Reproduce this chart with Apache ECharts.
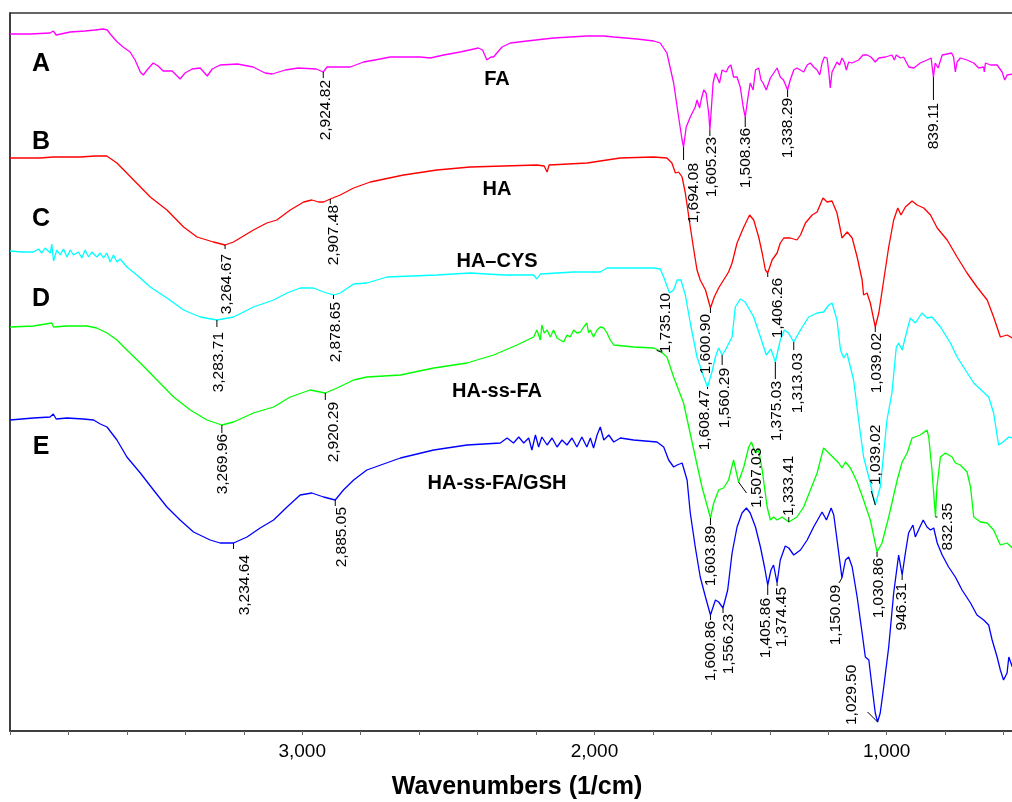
<!DOCTYPE html>
<html>
<head>
<meta charset="utf-8">
<script src="https://cdn.jsdelivr.net/npm/echarts@6/dist/echarts.min.js"></script>
<style>html,body{margin:0;padding:0;background:#fff}#c{width:1012px;height:802px}</style>
</head>
<body>
<div id="c"></div>
<script>
// ---------- DATA (wavenumber cm-1, transmittance in arbitrary offset units) ----------
const traceNames = ['FA', 'HA', 'HA–CYS', 'HA-ss-FA', 'HA-ss-FA/GSH'];
const traceLetters = ['A', 'B', 'C', 'D', 'E'];
const xTickLabels = [1000, 2000, 3000];

const faData = [[4000,697],[3931,697],[3863,698],[3852,700],[3842,696],[3794,699],[3743,700],[3709,701],[3681,702],[3667,701],[3657,697],[3633,689],[3613,684],[3589,679],[3572,671],[3554,659],[3544,656],[3531,661],[3510,668],[3493,665],[3476,660],[3445,660],[3418,652],[3401,658],[3377,662],[3349,663],[3325,655],[3308,662],[3281,666],[3222,667],[3168,664],[3127,658],[3103,657],[3058,661],[3014,663],[2952,662],[2928,659],[2915,664],[2870,664],[2836,664],[2790,669],[2733,672],[2699,674],[2642,674],[2596,674],[2562,673],[2516,676],[2459,679],[2397,683],[2383,681],[2368,671],[2362,669],[2354,674],[2345,674],[2334,678],[2316,684],[2288,688],[2231,690],[2140,693],[2025,695],[1969,695],[1934,694],[1854,692],[1797,690],[1775,688],[1752,678],[1729,648],[1712,614],[1700,591],[1695,584],[1686,604],[1672,614],[1655,624],[1649,631],[1640,623],[1635,631],[1626,641],[1618,638],[1609,618],[1605,601],[1601,618],[1594,648],[1586,658],[1572,648],[1563,661],[1549,659],[1541,664],[1533,666],[1524,654],[1512,654],[1501,644],[1491,624],[1484,614],[1476,631],[1467,648],[1457,641],[1449,661],[1438,663],[1430,651],[1423,648],[1412,641],[1398,653],[1375,663],[1364,654],[1353,651],[1339,641],[1330,651],[1318,661],[1307,663],[1284,659],[1272,666],[1261,668],[1250,664],[1238,661],[1229,656],[1221,668],[1213,674],[1204,673],[1198,659],[1193,643],[1187,659],[1170,669],[1161,666],[1153,673],[1145,669],[1138,661],[1130,669],[1119,668],[1096,671],[1081,676],[1067,676],[1054,674],[1039,669],[1027,673],[1004,674],[982,676],[974,671],[967,676],[953,673],[942,674],[924,664],[907,663],[885,668],[862,671],[848,673],[840,654],[834,668],[824,663],[810,676],[793,677],[778,678],[771,674],[765,659],[759,669],[748,673],[725,671],[702,668],[685,663],[668,664],[666,659],[662,668],[645,666],[622,666],[605,659],[596,651],[588,656],[570,657]];

const haData = [[4000,573],[3897,573],[3852,574],[3849,576],[3760,574],[3709,575],[3669,575],[3634,568],[3577,551],[3520,534],[3463,521],[3406,504],[3360,494],[3304,489],[3264,486],[3235,489],[3167,501],[3121,508],[3087,511],[3041,521],[2995,529],[2967,531],[2944,529],[2927,529],[2904,532],[2870,536],[2824,543],[2767,549],[2653,556],[2539,561],[2425,564],[2311,565],[2197,566],[2172,565],[2162,559],[2155,566],[2025,568],[1912,573],[1798,574],[1752,573],[1735,568],[1723,558],[1712,559],[1700,554],[1689,538],[1672,504],[1660,481],[1649,461],[1638,451],[1620,441],[1603,423],[1590,434],[1575,443],[1558,451],[1541,459],[1529,468],[1512,488],[1489,504],[1469,516],[1455,511],[1438,494],[1426,478],[1415,461],[1407,458],[1392,471],[1375,478],[1364,488],[1352,493],[1330,493],[1307,491],[1295,496],[1278,508],[1255,516],[1238,519],[1218,533],[1204,529],[1187,530],[1170,518],[1158,501],[1153,493],[1135,499],[1118,493],[1101,474],[1084,451],[1079,436],[1067,438],[1056,428],[1039,404],[1027,418],[1010,451],[993,484],[976,511],[962,523],[951,516],[936,524],[913,530],[896,526],[873,523],[850,516],[827,503],[793,491],[759,474],[725,458],[691,444],[656,431],[634,414],[611,394],[588,396],[570,393]];

const cysData = [[4000,480],[3960,479],[3920,479],[3902,482],[3891,478],[3880,483],[3862,478],[3857,487],[3851,470],[3840,481],[3828,476],[3817,482],[3805,474],[3794,481],[3783,476],[3766,479],[3754,473],[3743,481],[3731,474],[3720,479],[3703,474],[3691,478],[3680,473],[3669,478],[3657,469],[3646,476],[3634,469],[3623,472],[3600,464],[3566,456],[3520,444],[3463,433],[3406,421],[3349,414],[3292,411],[3235,414],[3167,424],[3098,431],[3052,438],[3007,443],[2961,443],[2927,439],[2893,436],[2870,438],[2824,447],[2779,448],[2710,454],[2539,456],[2425,458],[2311,456],[2208,456],[2197,452],[2185,457],[2071,459],[1980,459],[1957,463],[1797,463],[1775,462],[1763,454],[1743,438],[1729,441],[1717,451],[1704,451],[1689,436],[1672,408],[1649,374],[1626,354],[1613,344],[1598,359],[1586,374],[1575,383],[1563,376],[1552,381],[1529,394],[1518,424],[1501,432],[1484,429],[1455,414],[1432,394],[1412,376],[1396,382],[1381,369],[1364,391],[1350,401],[1336,398],[1318,389],[1295,401],[1267,414],[1238,418],[1216,419],[1198,426],[1187,428],[1170,411],[1158,381],[1147,373],[1136,378],[1113,351],[1096,311],[1079,274],[1056,248],[1039,226],[1022,244],[1010,278],[999,311],[982,338],[967,384],[959,388],[947,381],[936,394],[919,413],[902,408],[879,418],[862,413],[845,414],[816,404],[782,388],[759,374],[702,348],[651,334],[634,318],[617,286],[602,289],[582,294],[570,293]];

const ssfaData = [[4000,404],[3920,405],[3857,408],[3851,404],[3805,405],[3737,405],[3703,403],[3668,398],[3634,391],[3600,381],[3554,368],[3497,351],[3440,334],[3383,321],[3326,311],[3275,306],[3235,309],[3167,318],[3098,324],[3041,334],[2973,341],[2921,338],[2881,343],[2824,351],[2779,354],[2664,356],[2550,363],[2436,368],[2345,376],[2265,386],[2208,394],[2197,401],[2185,391],[2180,406],[2172,398],[2162,401],[2151,394],[2140,401],[2128,393],[2117,391],[2105,389],[2094,396],[2083,394],[2071,401],[2060,398],[2048,399],[2037,404],[2026,408],[2020,398],[2014,401],[2003,394],[1991,401],[1980,404],[1968,403],[1957,398],[1946,391],[1934,386],[1866,384],[1797,383],[1775,380],[1752,374],[1729,354],[1695,328],[1660,281],[1632,244],[1615,226],[1603,213],[1592,228],[1575,241],[1558,243],[1541,251],[1524,271],[1507,249],[1489,264],[1472,284],[1463,289],[1449,278],[1438,281],[1426,261],[1409,224],[1398,211],[1387,214],[1375,211],[1358,214],[1335,209],[1307,214],[1284,224],[1261,241],[1238,258],[1216,283],[1198,278],[1181,273],[1164,268],[1153,263],[1141,269],[1124,263],[1101,249],[1079,231],[1056,211],[1033,179],[1016,188],[993,214],[964,251],[947,269],[930,278],[913,293],[885,296],[862,301],[856,294],[845,261],[833,214],[828,244],[816,274],[799,278],[776,274],[765,268],[748,266],[725,259],[713,244],[702,214],[679,209],[656,208],[634,201],[611,186],[588,188],[570,183]];

const gshData = [[4000,311],[3920,313],[3863,314],[3852,317],[3842,312],[3805,313],[3749,312],[3714,311],[3691,307],[3668,304],[3634,291],[3600,274],[3554,258],[3509,241],[3463,224],[3418,211],[3372,199],[3315,191],[3281,188],[3235,188],[3189,194],[3144,203],[3098,211],[3052,224],[3007,236],[2967,238],[2927,234],[2887,231],[2859,241],[2824,251],[2779,261],[2664,273],[2550,281],[2436,286],[2322,288],[2299,293],[2277,288],[2259,294],[2242,288],[2225,293],[2214,281],[2202,296],[2191,284],[2180,294],[2162,286],[2145,293],[2128,284],[2111,291],[2094,286],[2077,293],[2060,284],[2043,294],[2026,284],[2014,293],[2003,283],[1991,296],[1980,304],[1968,291],[1951,296],[1934,289],[1911,293],[1866,291],[1786,289],[1763,284],[1746,271],[1729,264],[1717,266],[1700,268],[1683,251],[1672,218],[1655,184],[1638,154],[1620,134],[1603,116],[1586,131],[1575,129],[1560,123],[1544,141],[1529,178],[1512,204],[1495,218],[1480,223],[1467,218],[1449,204],[1432,184],[1418,164],[1407,146],[1396,161],[1387,166],[1375,148],[1364,171],[1347,185],[1335,183],[1318,176],[1295,181],[1272,191],[1250,204],[1221,219],[1206,211],[1190,223],[1181,216],[1164,178],[1153,153],[1141,171],[1130,174],[1118,164],[1101,134],[1084,98],[1073,74],[1061,71],[1050,44],[1039,18],[1031,9],[1022,18],[1010,44],[993,84],[976,138],[959,176],[947,156],[936,178],[925,198],[910,206],[902,194],[891,201],[875,211],[862,204],[850,201],[839,203],[827,188],[810,176],[788,164],[765,154],[742,141],[713,128],[691,116],[668,111],[651,106],[639,91],[622,74],[611,61],[600,51],[588,58],[582,74],[570,64]];

// labelled peaks: [wavenumber, label]
const faPeaks = [[2928,'2,924.82'],[1695,'1,694.08'],[1605,'1,605.23'],[1484,'1,508.36'],[1339,'1,338.29'],[840,'839.11']];
const haPeaks = [[3264,'3,264.67'],[2904,'2,907.48'],[1603,'1,600.90'],[1407,'1,406.26'],[1039,'1,039.02']];
const cysPeaks = [[3292,'3,283.71'],[2893,'2,878.65'],[1613,'1,608.47'],[1563,'1,560.29'],[1381,'1,375.03'],[1318,'1,313.03'],[1039,'1,039.02']];
const ssfaPeaks = [[1770,'1,735.10'],[3275,'3,269.96'],[2921,'2,920.29'],[1603,'1,603.89'],[1507,'1,507.03'],[1335,'1,333.41'],[1033,'1,030.86'],[833,'832.35']];
const gshPeaks = [[3235,'3,234.64'],[2887,'2,885.05'],[1603,'1,600.86'],[1560,'1,556.23'],[1407,'1,405.86'],[1375,'1,374.45'],[1153,'1,150.09'],[1031,'1,029.50'],[947,'946.31']];

// ---------- LAYOUT / STYLE ----------
const colors = ['#ff00ff', '#ff0000', '#00ffff', '#00ff00', '#0000ff'];
// per label: [leaderDx, leaderDy, textDx, textDy, direction]
const faPlace = [[0,6,2,8,'down'],[0,13,10,16,'down'],[0,6,2,7,'down'],[0,10,0,11,'down'],[0,7,0,8,'down'],[0,23,0,26,'down']];
const haPlace = [[0,4,2,9,'down'],[0,5,3,6,'down'],[0,5,-5,6,'down'],[0,4,10,5,'down'],[0,5,1,6,'down']];
const cysPlace = [[0,7,2,12,'down'],[0,4,2,7,'down'],[0,2,-3,3,'down'],[0,10,3,13,'down'],[0,17,1,19,'down'],[0,8,4,11,'down'],[-4,-14,0,-20,'up']];
const ssfaPlace = [[-5,-2,4,1,'up'],[0,8,1,9,'down'],[0,7,8,9,'down'],[0,7,0,8,'down'],[8,11,18,26,'up'],[0,-5,0,-6,'up'],[0,5,2,6,'down'],[2,0,12,-14,'down']];
const gshPlace = [[0,6,11,12,'down'],[0,6,6,7,'down'],[0,5,0,6,'down'],[0,5,6,6,'down'],[0,10,-2,13,'down'],[0,3,5,4,'down'],[-3,5,-6,7,'down'],[-10,-10,-26,3,'up'],[0,5,0,8,'down']];

const letterPos = [[41,64],[41,142],[41,219],[41,299],[41,447]];
const namePos = [[497,79],[497,189],[497,261],[497,391],[497,483]];

const datasets = [faData, haData, cysData, ssfaData, gshData];
const peaks = [faPeaks, haPeaks, cysPeaks, ssfaPeaks, gshPeaks];
const places = [faPlace, haPlace, cysPlace, ssfaPlace, gshPlace];
const FONT = 'Arial, "Liberation Sans", Helvetica, sans-serif';

function interp(data, wn) {
  for (let i = 0; i < data.length - 1; i++) {
    const a = data[i], b = data[i + 1];
    if (wn <= a[0] && wn >= b[0]) {
      const t = (a[0] - wn) / (a[0] - b[0] || 1);
      return a[1] + t * (b[1] - a[1]);
    }
  }
  return data[data.length - 1][1];
}

const chart = echarts.init(document.getElementById('c'), null, {renderer: 'canvas'});
const option = {
  animation: false,
  backgroundColor: '#ffffff',
  grid: {left: 10, top: 13, bottom: 71, width: 1052, outerBoundsMode: 'none', containLabel: false,
    show: true, borderColor: '#333', borderWidth: 1.5, backgroundColor: 'transparent'},
  xAxis: {
    type: 'value', inverse: true, min: 400, max: 4000, interval: 200,
    axisLine: {show: true, lineStyle: {color: '#333', width: 1.5}},
    axisTick: {show: true, length: 4, inside: false, lineStyle: {color: '#666', width: 1}},
    axisLabel: {
      show: true, margin: 11, fontSize: 19, color: '#000', fontFamily: FONT,
      formatter: v => xTickLabels.indexOf(v) >= 0 ? v.toLocaleString('en-US') : ''
    },
    splitLine: {show: false}
  },
  yAxis: {
    type: 'value', min: 0, max: 718,
    axisLine: {show: true, lineStyle: {color: '#333', width: 1.5}},
    axisTick: {show: false}, axisLabel: {show: false}, splitLine: {show: false}
  },
  series: datasets.map((d, i) => ({
    name: traceNames[i], type: 'line', data: d, showSymbol: false, symbol: 'none',
    silent: true, lineStyle: {color: colors[i], width: 1.3}, itemStyle: {color: colors[i]}
  }))
};
chart.setOption(option);

const g = [];
datasets.forEach((d, si) => {
  peaks[si].forEach((p, pi) => {
    const wn = p[0], txt = p[1];
    const pl = places[si][pi];
    const pt = chart.convertToPixel({seriesIndex: si}, [wn, interp(d, wn)]);
    const ax = pt[0], ay = pt[1];
    g.push({type: 'line', z: 100, silent: true,
      shape: {x1: ax, y1: ay, x2: ax + pl[0], y2: ay + pl[1]},
      style: {stroke: '#000', lineWidth: 1}});
    g.push({type: 'text', z: 101, silent: true, x: ax + pl[2], y: ay + pl[3], rotation: Math.PI / 2,
      style: {text: txt, fill: '#000', fontSize: 15.5, fontFamily: FONT,
        align: pl[4] === 'down' ? 'right' : 'left', verticalAlign: 'middle'}});
  });
});
traceLetters.forEach((t, i) => {
  g.push({type: 'text', z: 101, silent: true, x: letterPos[i][0], y: letterPos[i][1],
    style: {text: t, fill: '#000', fontSize: 25, fontWeight: 'bold', fontFamily: FONT, align: 'center', verticalAlign: 'middle'}});
});
traceNames.forEach((t, i) => {
  g.push({type: 'text', z: 101, silent: true, x: namePos[i][0], y: namePos[i][1],
    style: {text: t, fill: '#000', fontSize: 20, fontWeight: 'bold', fontFamily: FONT, align: 'center', verticalAlign: 'middle'}});
});
g.push({type: 'text', z: 101, silent: true, x: 517, y: 787,
  style: {text: 'Wavenumbers (1/cm)', fill: '#000', fontSize: 25, fontWeight: 'bold', fontFamily: FONT, align: 'center', verticalAlign: 'middle'}});
chart.setOption({graphic: g});
</script>
</body>
</html>
